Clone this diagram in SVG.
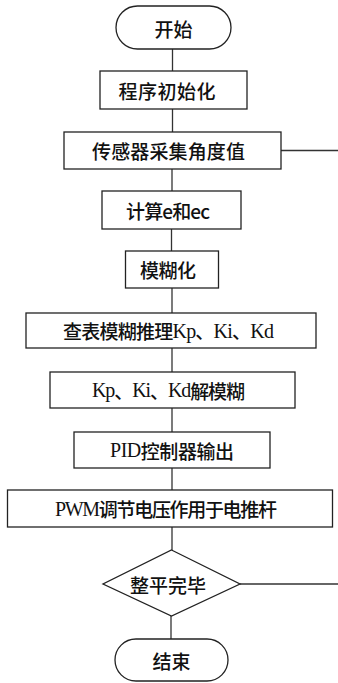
<svg xmlns="http://www.w3.org/2000/svg" width="338" height="683" viewBox="0 0 338 683">
<style>
.box{fill:#fff;stroke:#222;stroke-width:1.3}
.ln{fill:none;stroke:#333;stroke-width:1.3}
text{font-family:"Noto Sans CJK SC","Noto Sans",sans-serif;font-size:19px;font-weight:500;fill:#111;text-anchor:middle;dominant-baseline:central}
.lat{font-family:"Liberation Serif","Noto Serif",serif;font-weight:400;font-size:20px}
</style>
<rect width="338" height="683" fill="#fff"/>
<g id="connectors">
<line class="ln" x1="172.5" y1="49" x2="172.5" y2="71"/>
<line class="ln" x1="172.5" y1="109" x2="172.5" y2="132"/>
<line class="ln" x1="281" y1="150.5" x2="338" y2="150.5"/>
<line class="ln" x1="172" y1="169" x2="172" y2="191"/>
<line class="ln" x1="171.5" y1="229" x2="171.5" y2="251"/>
<line class="ln" x1="172" y1="288" x2="172" y2="313"/>
<line class="ln" x1="172" y1="348" x2="172" y2="372"/>
<line class="ln" x1="172" y1="408" x2="172" y2="432"/>
<line class="ln" x1="172" y1="468" x2="172" y2="490"/>
<line class="ln" x1="172" y1="527" x2="172" y2="550"/>
<line class="ln" x1="240" y1="584" x2="338" y2="584"/>
<line class="ln" x1="171" y1="616" x2="171" y2="639"/>
</g>
<g id="start">
<rect class="box" x="116" y="6" width="115" height="43" rx="21.5"/>
<text x="173.5" y="28">开始</text>
</g>
<g id="init">
<rect class="box" x="100" y="71" width="147" height="38"/>
<text x="167" y="90" textLength="97" lengthAdjust="spacing">程序初始化</text>
</g>
<g id="sensor">
<rect class="box" x="64" y="132" width="217" height="37"/>
<text x="168.5" y="150.5" textLength="153" lengthAdjust="spacing">传感器采集角度值</text>
</g>
<g id="calc">
<rect class="box" x="102" y="191" width="139" height="38"/>
<text x="168" y="210" textLength="84" lengthAdjust="spacing">计算e和ec</text>
</g>
<g id="fuzzify">
<rect class="box" x="125.5" y="251" width="93" height="37"/>
<text x="168" y="269.5" textLength="56" lengthAdjust="spacing">模糊化</text>
</g>
<g id="lookup">
<rect class="box" x="26" y="313" width="290" height="35"/>
<text x="168.5" y="330.5" textLength="211" lengthAdjust="spacing">查表模糊推理<tspan class="lat">Kp</tspan>、<tspan class="lat">Ki</tspan>、<tspan class="lat">Kd</tspan></text>
</g>
<g id="defuzz">
<rect class="box" x="50" y="372" width="245" height="36"/>
<text x="168.5" y="390" textLength="153" lengthAdjust="spacing"><tspan class="lat">Kp</tspan>、<tspan class="lat">Ki</tspan>、<tspan class="lat">Kd</tspan>解模糊</text>
</g>
<g id="pid">
<rect class="box" x="74" y="432" width="196" height="36"/>
<text x="172" y="450" textLength="124" lengthAdjust="spacing"><tspan class="lat">PID</tspan>控制器输出</text>
</g>
<g id="pwm">
<rect class="box" x="7.5" y="490" width="325" height="37"/>
<text x="166" y="508.5" textLength="222" lengthAdjust="spacing"><tspan class="lat">PWM</tspan>调节电压作用于电推杆</text>
</g>
<g id="decision">
<polygon class="box" points="171.5,550 240,584 171.5,616 103,584"/>
<text x="168" y="584" textLength="76" lengthAdjust="spacing">整平完毕</text>
</g>
<g id="end">
<rect class="box" x="115" y="639" width="113" height="42" rx="21"/>
<text x="171.5" y="660">结束</text>
</g>
</svg>
